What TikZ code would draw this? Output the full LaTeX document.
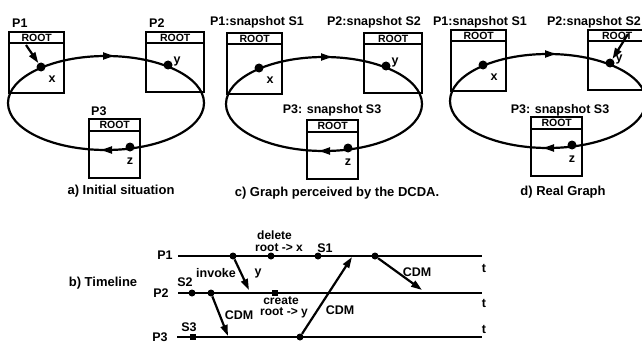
\documentclass[tikz,border=0pt]{standalone}
\usepackage{fontspec}
\setmainfont{Liberation Sans}
\usetikzlibrary{arrows.meta}

% one object graph: three process boxes on a ring of references
\newcommand\graphpanel{%
  \coordinate (c) at (106,103);
  \draw[ring] (c) ellipse [x radius=98, y radius=47];
  \draw[ring, ringtip] (101,56) -- (114,56);
  \draw[ring, ringtip] (114,150) -- (101,150);
  \node[objbox, minimum width=55pt, minimum height=61pt] (b1) at (8,31) {};
  \node[objbox, minimum width=58pt, minimum height=60pt] (b2) at (145,31) {};
  \node[objbox, minimum width=51pt, minimum height=59pt] (b3) at (88,118) {};
  \foreach \b in {b1,b2,b3}{%
    \draw[hdr] ([yshift=-12.5pt]\b.north west) -- ([yshift=-12.5pt]\b.north east);
    \node[rootlbl] at ([yshift=-6.8pt]\b.north) {ROOT};
  }
  \node[gdot] (x) at (41,67) {};
  \node[gdot] (y) at (168,65) {};
  \node[gdot] (z) at (130,147) {};
  \node[lbl] (xl) at (52,79) {x};
  \node[lbl] (yl) at (177,61) {y};
  \node[lbl] (zl) at (130,161) {z};
}

\begin{document}
\begin{tikzpicture}[x=1pt,y=-1pt,
  font=\bfseries\fontsize{12.5}{13}\selectfont,
  lbl/.style={inner sep=0pt},
  captext/.style={inner sep=0pt, font=\bfseries\fontsize{13}{14}\selectfont},
  rootlbl/.style={inner sep=0pt, font=\bfseries\fontsize{10.5}{11}\selectfont},
  objbox/.style={draw, line width=2.4pt, anchor=north west, inner sep=0pt},
  hdr/.style={line width=2pt},
  ring/.style={line width=2.2pt},
  ringtip/.style={-{Triangle[length=11pt,width=7pt]}},
  gdot/.style={circle, fill, inner sep=0pt, minimum size=9pt},
  tdot/.style={circle, fill, inner sep=0pt, minimum size=7pt},
  tsq/.style={fill, inner sep=0pt, minimum size=6pt},
  tline/.style={line width=2.2pt},
  msg/.style={line width=2.2pt, -{Triangle[length=11pt,width=7pt]}},
  small/.style={inner sep=0pt, font=\bfseries\fontsize{12}{12}\selectfont},
]
\useasboundingbox (0,0) rectangle (642,345);

% a) initial situation
\begin{scope}[name prefix=a-]
  \graphpanel
  \coordinate (rs) at (26,45);
  \draw[msg] (rs) -- (x);
\end{scope}
\node[lbl, anchor=west] (aP1) at (12,23) {P1};
\node[lbl, anchor=west] (aP2) at (149,23) {P2};
\node[lbl, anchor=west] (aP3) at (91,111) {P3};
\node[captext] (capa) at (121,191) {a) Initial situation};

% c) graph perceived by the DCDA
\begin{scope}[shift={(218,1)}, name prefix=c-]
  \graphpanel
\end{scope}
\node[lbl] (cP1) at (257,22) {P1:snapshot S1};
\node[lbl] (cP2) at (374,22) {P2:snapshot S2};
\node[lbl] (cP3) at (332,110) {P3: snapshot S3};
\node[captext] (capc) at (337,193) {c) Graph perceived by the DCDA.};

% d) real graph
\begin{scope}[shift={(442,-2)}, name prefix=d-]
  \graphpanel
  \coordinate (rs) at (186,36);
  \draw[msg] (rs) -- (y);
\end{scope}
\node[lbl] (dP1) at (480,22) {P1:snapshot S1};
\node[lbl] (dP2) at (594,22) {P2:snapshot S2};
\node[lbl] (dP3) at (560,110) {P3: snapshot S3};
\node[captext] (capd) at (563,192) {d) Real Graph};

% b) timeline
\node[captext] (capb) at (103,283) {b) Timeline};
\coordinate (p1s) at (178,256); \coordinate (p1e) at (482,256);
\coordinate (p2s) at (178,293); \coordinate (p2e) at (482,293);
\coordinate (p3s) at (177,337); \coordinate (p3e) at (482,337);
\draw[tline] (p1s) -- (p1e);
\draw[tline] (p2s) -- (p2e);
\draw[tline] (p3s) -- (p3e);
\node[lbl] (tP1) at (165,255) {P1};
\node[lbl] (tP2) at (161,293) {P2};
\node[lbl] (tP3) at (160,337) {P3};
\node[lbl] (t1) at (484,268) {t};
\node[lbl] (t2) at (484,303) {t};
\node[lbl] (t3) at (484,329) {t};

\node[tdot] (inv) at (233,256) {};
\node[tdot] (del) at (271,256) {};
\node[tdot] (s1) at (318,256) {};
\node[tdot] (snd1) at (375,256) {};
\node[tdot] (s2) at (192,293) {};
\node[tdot] (snd2) at (211,293) {};
\node[tsq] (crt) at (275,293) {};
\node[tsq] (s3) at (193,337) {};
\node[tdot] (snd3) at (300,337) {};

\coordinate (invEnd) at (249,290);
\coordinate (cdm2End) at (228,336);
\coordinate (cdm3End) at (352,257);
\coordinate (cdm1End) at (422,290);
\draw[msg] (inv) -- (invEnd);
\draw[msg] (snd2) -- (cdm2End);
\draw[msg] (snd3) -- (cdm3End);
\draw[msg] (snd1) -- (cdm1End);

\node[lbl] (linv) at (216,273) {invoke};
\node[lbl] (ly) at (258,273) {y};
\node[lbl] (ls2) at (185,282) {S2};
\node[lbl] (ls3) at (189,327) {S3};
\node[lbl] (ls1) at (325,248) {S1};
\node[lbl] (lcdm2) at (239,315) {CDM};
\node[lbl] (lcdm1) at (417,272) {CDM};
\node[lbl] (lcdm3) at (340,310) {CDM};
\node[small, anchor=west] (ldel1) at (257,235.5) {delete};
\node[small, anchor=west] (ldel2) at (255,247.5) {root -> x};
\node[small] (lcrt1) at (281,300.5) {create};
\node[small] (lcrt2) at (284,313) {root -> y};
\end{tikzpicture}
\end{document}
